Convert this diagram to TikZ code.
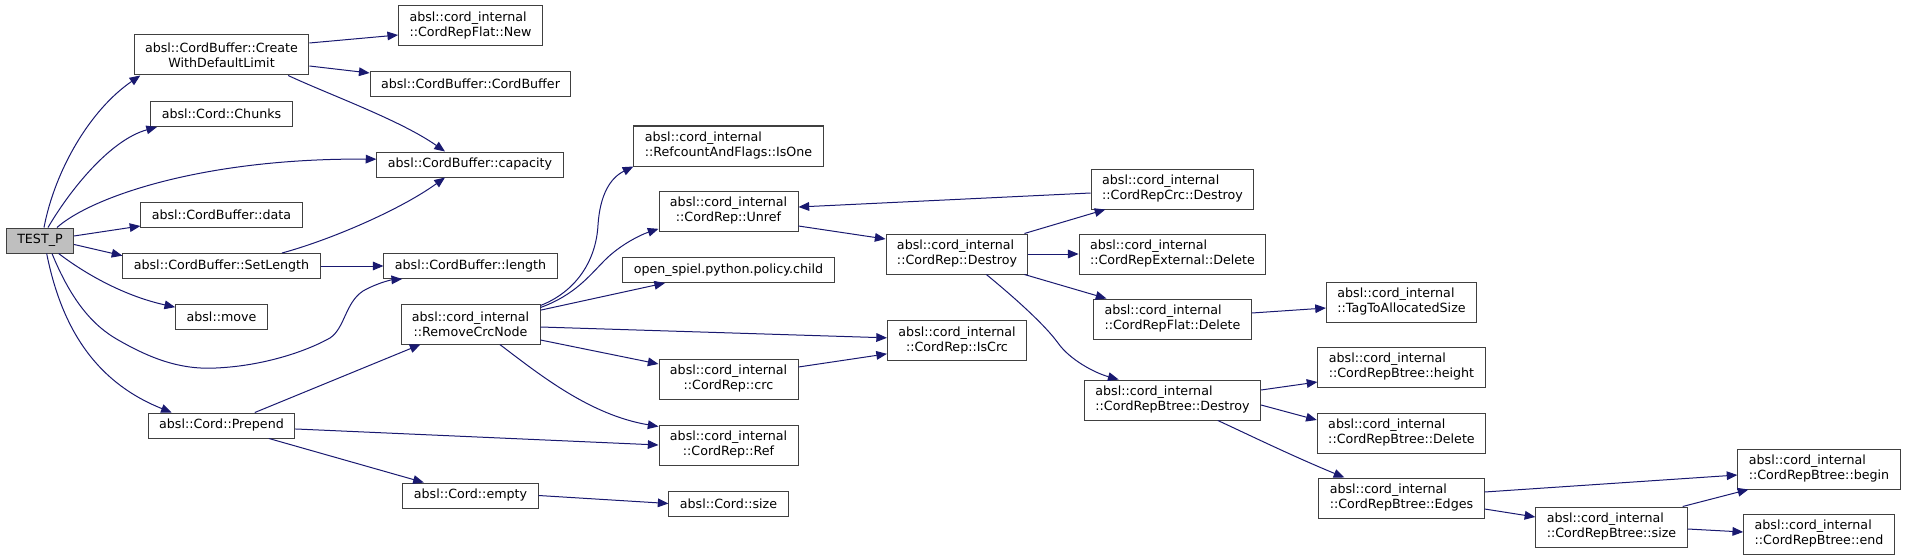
\documentclass[tikz,border=0pt]{standalone}
\usepackage{fontspec}
\setmainfont{DejaVu Sans}
\usepackage{tikz}
\usetikzlibrary{arrows.meta}
\definecolor{edgeblue}{HTML}{191970}
\definecolor{boxgray}{HTML}{404040}
\definecolor{rootgray}{HTML}{BFBFBF}

\begin{document}
\begin{tikzpicture}[x=0.75pt,y=-0.75pt,
  fn/.style={draw=boxgray, line width=0.75pt, fill=white, font=\fontsize{9.5}{11.25}\selectfont,
    inner xsep=8.2pt, inner ysep=2pt, minimum height=18.75pt, align=center},
  fn2/.style={fn, minimum height=30pt, align=left},
  fn2c/.style={fn, minimum height=30pt, align=center},
  call/.style={draw=edgeblue, line width=0.75pt, -{Triangle[length=8pt,width=6.5pt]}}]
\useasboundingbox (0,0) rectangle (1907,560);

% column 1
\node[fn, fill=rootgray] (testp) at (40,240.5) {TEST\_P};
\node[fn2c] (create) at (221.5,55) {absl::CordBuffer::Create\\WithDefaultLimit};
\node[fn] (chunks) at (221.5,114) {absl::Cord::Chunks};
\node[fn] (data) at (221.5,215) {absl::CordBuffer::data};
\node[fn] (setlength) at (221.5,266) {absl::CordBuffer::SetLength};
\node[fn] (move) at (221.5,316.5) {absl::move};
\node[fn] (prepend) at (221.5,425.5) {absl::Cord::Prepend};
% column 2
\node[fn2] (flatnew) at (470.5,26) {absl::cord\_internal\\::CordRepFlat::New};
\node[fn] (cordbuffer) at (470.5,84) {absl::CordBuffer::CordBuffer};
\node[fn] (capacity) at (470,164.5) {absl::CordBuffer::capacity};
\node[fn] (length) at (470.5,266) {absl::CordBuffer::length};
\node[fn2c] (removecrc) at (470.5,324) {absl::cord\_internal\\::RemoveCrcNode};
\node[fn] (empty) at (470.5,495.5) {absl::Cord::empty};
% column 3
\node[fn2] (isone) at (728.5,146) {absl::cord\_internal\\::RefcountAndFlags::IsOne};
\node[fn2c] (unref) at (728.5,211) {absl::cord\_internal\\::CordRep::Unref};
\node[fn] (child) at (728.5,270) {open\_spiel.python.policy.child};
\node[fn2c] (crc) at (728.5,379) {absl::cord\_internal\\::CordRep::crc};
\node[fn2c] (ref) at (728.5,445) {absl::cord\_internal\\::CordRep::Ref};
\node[fn] (cordsize) at (728.5,503.5) {absl::Cord::size};
% column 4
\node[fn2] (repdestroy) at (957,254) {absl::cord\_internal\\::CordRep::Destroy};
\node[fn2c] (iscrc) at (957,340.5) {absl::cord\_internal\\::CordRep::IsCrc};
% column 5
\node[fn2] (crcdestroy) at (1172.5,189) {absl::cord\_internal\\::CordRepCrc::Destroy};
\node[fn2] (extdelete) at (1172.5,254) {absl::cord\_internal\\::CordRepExternal::Delete};
\node[fn2] (flatdelete) at (1172.5,319) {absl::cord\_internal\\::CordRepFlat::Delete};
\node[fn2] (btreedestroy) at (1172.5,400) {absl::cord\_internal\\::CordRepBtree::Destroy};
% column 6
\node[fn2] (tagsize) at (1401.5,302) {absl::cord\_internal\\::TagToAllocatedSize};
\node[fn2] (height) at (1401.5,367) {absl::cord\_internal\\::CordRepBtree::height};
\node[fn2] (btreedelete) at (1401.5,433) {absl::cord\_internal\\::CordRepBtree::Delete};
\node[fn2] (edges) at (1401.5,498) {absl::cord\_internal\\::CordRepBtree::Edges};
% columns 7 and 8
\node[fn2] (btreesize) at (1611.5,527) {absl::cord\_internal\\::CordRepBtree::size};
\node[fn2] (begin) at (1819,469) {absl::cord\_internal\\::CordRepBtree::begin};
\node[fn2] (btreeend) at (1819,534) {absl::cord\_internal\\::CordRepBtree::end};

% calls from TEST_P
\draw[call] ([xshift=3pt]testp.north) .. controls (55,170) and (90,110) .. ([xshift=5pt]create.south west);
\draw[call] ([xshift=6pt]testp.north) .. controls (70,190) and (110,140) .. ([xshift=5pt]chunks.south west);
\draw[call] ([xshift=12.75pt]testp.north) .. controls (90,198) and (200,158) .. ([yshift=4pt]capacity.west);
\draw[call] ([yshift=3.4pt]testp.east) -- ([yshift=1.5pt]data.south west);
\draw[call] ([yshift=-3pt]testp.east) -- ([yshift=-2pt]setlength.north west);
\draw[call] ([xshift=14pt]testp.south) .. controls (80,270) and (120,295) .. ([yshift=7pt]move.west);
\draw[call] ([xshift=9pt]testp.south) .. controls (75,310) and (100,330) .. (120,341)
  .. controls (150,358) and (180,370) .. (216,368) .. controls (262,366) and (305,352) .. (330,338)
  .. controls (345,328) and (345,303) .. (363,291) .. controls (375,284) and (390,280) .. ([xshift=14pt]length.south west);
\draw[call] ([xshift=5pt]testp.south) .. controls (60,320) and (90,380) .. ([xshift=18pt]prepend.north west);
% column 1 to column 2
\draw[call] ([yshift=9pt]create.east) -- ([yshift=-6.75pt]flatnew.west);
\draw[call] ([yshift=-8.25pt]create.east) -- ([yshift=8.25pt]cordbuffer.west);
\draw[call] ([xshift=50pt]create.south) .. controls (330,95) and (400,120) .. ([xshift=-18.75pt]capacity.north);
\draw[call] ([xshift=45.4pt]setlength.north) .. controls (330,240) and (400,210) .. ([xshift=-18.75pt]capacity.south);
\draw[call] (setlength.east) -- (length.west);
\draw[call] ([xshift=25pt]prepend.north) -- ([xshift=-37.5pt]removecrc.south);
\draw[call] ([yshift=-2.6pt]prepend.east) -- (ref.west);
\draw[call] ([xshift=35.6pt]prepend.south) -- ([xshift=-35pt]empty.north);
\draw[call] (empty.east) -- (cordsize.west);
% RemoveCrcNode
\draw[call] ([yshift=-1.5pt]removecrc.north east) .. controls (575,292) and (596,262) .. (598,225)
  .. controls (600,195) and (610,178) .. (isone.south west);
\draw[call] ([yshift=-3pt]removecrc.north east) .. controls (575,295) and (590,275) .. (605,260)
  .. controls (620,245) and (640,235) .. ([yshift=2pt]unref.south west);
\draw[call] ([yshift=-5pt]removecrc.north east) -- ([xshift=32pt]child.south west);
\draw[call] ([yshift=-2.25pt]removecrc.east) -- ([yshift=2pt]iscrc.west);
\draw[call] ([yshift=-12pt]removecrc.east) -- ([yshift=11.25pt]crc.west);
\draw[call] ([xshift=22pt]removecrc.south) .. controls (540,375) and (590,415) .. ([yshift=-1.5pt]ref.north west);
% CordRep
\draw[call] ([yshift=-11.25pt]unref.east) -- ([yshift=11.25pt]repdestroy.west);
\draw[call] ([yshift=9pt]crc.east) -- ([yshift=-10pt]iscrc.west);
\draw[call] ([xshift=-3pt]repdestroy.north east) -- ([xshift=11pt]crcdestroy.south west);
\draw[call] (repdestroy.east) -- (extdelete.west);
\draw[call] ([xshift=-3pt]repdestroy.south east) -- ([xshift=10pt]flatdelete.north west);
\draw[call] ([xshift=22pt]repdestroy.south) .. controls (1015,298) and (1045,325) .. (1058,343)
  .. controls (1070,360) and (1095,373) .. ([xshift=26pt]btreedestroy.north west);
\draw[call] ([yshift=-3pt]crcdestroy.west) -- ([yshift=3pt]unref.east);
\draw[call] ([yshift=4.5pt]flatdelete.east) -- ([yshift=-4.5pt]tagsize.west);
% CordRepBtree
\draw[call] ([yshift=7.5pt]btreedestroy.east) -- ([yshift=-11.25pt]height.west);
\draw[call] ([yshift=-3.75pt]btreedestroy.east) -- ([yshift=9.75pt]btreedelete.west);
\draw[call] ([xshift=34pt]btreedestroy.south) .. controls (1245,433) and (1290,455) .. ([xshift=19.5pt]edges.north west);
\draw[call] ([yshift=4.5pt]edges.east) -- ([yshift=-4.5pt]begin.west);
\draw[call] ([yshift=-8.25pt]edges.east) -- ([yshift=7.5pt]btreesize.west);
\draw[call] ([xshift=-3.75pt]btreesize.north east) -- ([xshift=8.25pt]begin.south west);
\draw[call] ([yshift=-1.5pt]btreesize.east) -- ([yshift=1.5pt]btreeend.west);
\end{tikzpicture}
\end{document}
